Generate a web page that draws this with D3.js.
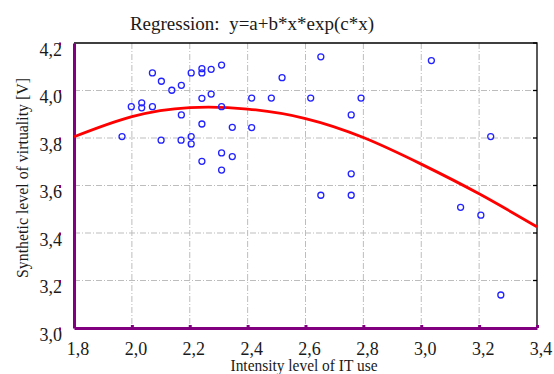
<!DOCTYPE html>
<html>
<head>
<meta charset="utf-8">
<script src="https://cdn.jsdelivr.net/npm/d3@7"></script>
<style>
    body { margin: 0; background: #fff; }
    svg { display: block; }
</style>
</head>
<body>
<script>
// observed points (intensity of IT use, synthetic level of virtuality)
var pointsX = [2.071, 2.102, 2.138, 2.171, 2.205, 2.242, 2.242, 2.274, 2.310, 2.519, 2.653, 3.035,
    1.998, 2.034, 2.034, 2.071, 2.171, 2.242, 2.274, 2.310, 2.414, 2.482, 2.618, 2.792, 2.758,
    1.966, 2.101, 2.170, 2.205, 2.205, 2.242, 2.347, 2.414, 2.310, 2.347, 2.242, 2.310,
    3.240, 2.758, 2.653, 2.758, 3.136, 3.206, 3.275];
var pointsY = [4.074, 4.039, 4.001, 4.022, 4.074, 4.092, 4.074, 4.089, 4.107, 4.054, 4.142, 4.126,
    3.932, 3.948, 3.927, 3.932, 3.897, 3.967, 3.985, 3.932, 3.968, 3.968, 3.968, 3.968, 3.897,
    3.806, 3.791, 3.791, 3.806, 3.775, 3.859, 3.845, 3.844, 3.737, 3.722, 3.702, 3.665,
    3.806, 3.649, 3.559, 3.559, 3.508, 3.475, 3.139];

// fitted regression curve
var curveX = [1.8, 2.0, 2.2, 2.4, 2.6, 2.8, 3.0, 3.2, 3.4];
var curveY = [3.805, 3.89, 3.928, 3.922, 3.882, 3.802, 3.69, 3.565, 3.426];

var xTicks = [1.8, 2.0, 2.2, 2.4, 2.6, 2.8, 3.0, 3.2, 3.4];
var yTicks = [3.0, 3.2, 3.4, 3.6, 3.8, 4.0, 4.2];

var title = "Regression:  y=a+b*x*exp(c*x)";
var xTitle = "Intensity level of IT use";
var yTitle = "Synthetic level of virtuality [V]";

var width = 554, height = 374;
var margin = {top: 43, right: 17, bottom: 46, left: 74};
var font = "'Liberation Serif', 'Times New Roman', serif";
var purple = "#800080";
var ink = "#1a1a1a";

var svg = d3.select("body").append("svg")
    .attr("width", width)
    .attr("height", height)
    .style("font-family", font);

var x = d3.scaleLinear().domain([1.8, 3.4]).range([margin.left, width - margin.right]);
var y = d3.scaleLinear().domain([3.0, 4.2]).range([height - margin.bottom, margin.top]);

function fmt(v) {
    return d3.format(".1f")(v).replace(".", ",");
}

// grid
svg.append("g").selectAll("line").data(xTicks.slice(1, -1)).enter().append("line")
    .attr("x1", function (d) { return x(d); })
    .attr("x2", function (d) { return x(d); })
    .attr("y1", y(4.2))
    .attr("y2", y(3.0))
    .attr("stroke", "#bdbdbd")
    .attr("stroke-dasharray", "6,2,1,2");

svg.append("g").selectAll("line").data(yTicks.slice(1, -1)).enter().append("line")
    .attr("x1", x(1.8))
    .attr("x2", x(3.4))
    .attr("y1", function (d) { return y(d); })
    .attr("y2", function (d) { return y(d); })
    .attr("stroke", "#bdbdbd")
    .attr("stroke-dasharray", "6,2,1,2");

// top and right frame
svg.append("path")
    .attr("d", "M" + x(1.8) + "," + y(4.2) + "H" + x(3.4) + "V" + y(3.0))
    .attr("fill", "none")
    .attr("stroke", "#000")
    .attr("stroke-width", 1.3);

// right side inward ticks
svg.append("g").selectAll("line").data(yTicks).enter().append("line")
    .attr("x1", x(3.4) - 4)
    .attr("x2", x(3.4))
    .attr("y1", function (d) { return y(d); })
    .attr("y2", function (d) { return y(d); })
    .attr("stroke", "#000")
    .attr("stroke-width", 1.3);

// axes, drawn with d3 axes then restyled
var xAxis = svg.append("g")
    .attr("transform", "translate(0," + y(3.0) + ")")
    .call(d3.axisBottom(x).tickValues(xTicks).tickFormat(fmt).tickSizeInner(-3).tickSizeOuter(0).tickPadding(14))
    .attr("font-family", font)
    .attr("font-size", 18);
xAxis.select(".domain").attr("stroke", purple).attr("stroke-width", 3);
xAxis.selectAll(".tick line").attr("stroke", purple).attr("stroke-width", 3);
xAxis.selectAll("text")
    .attr("x", 3.5)
    .style("font-family", font)
    .attr("fill", ink);

var yAxis = svg.append("g")
    .attr("transform", "translate(" + x(1.8) + ",0)")
    .call(d3.axisLeft(y).tickValues(yTicks).tickFormat(fmt).tickSize(0).tickPadding(12))
    .attr("font-family", font)
    .attr("font-size", 18);
yAxis.select(".domain").attr("stroke", purple).attr("stroke-width", 3);
yAxis.selectAll("text")
    .style("font-family", font)
    .attr("fill", ink)
    .attr("dy", "0.68em");
// little purple marks next to the labels
yAxis.selectAll(".tick").append("rect")
    .attr("x", -15)
    .attr("y", -1)
    .attr("width", 2)
    .attr("height", 3)
    .attr("fill", purple);

// regression curve
var line = d3.line()
    .x(function (d) { return x(d[0]); })
    .y(function (d) { return y(d[1]); })
    .curve(d3.curveNatural);

svg.append("path")
    .datum(curveX.map(function (d, i) { return [d, curveY[i]]; }))
    .attr("d", line)
    .attr("fill", "none")
    .attr("stroke", "#ff0000")
    .attr("stroke-width", 2.8);

// points
svg.append("g").selectAll("circle").data(d3.range(pointsX.length)).enter().append("circle")
    .attr("cx", function (i) { return x(pointsX[i]); })
    .attr("cy", function (i) { return y(pointsY[i]); })
    .attr("r", 3)
    .attr("fill", "none")
    .attr("stroke", "#2222ff")
    .attr("stroke-width", 1.3);

// titles
svg.append("text")
    .attr("x", 252)
    .attr("y", 30)
    .attr("text-anchor", "middle")
    .attr("font-size", 19)
    .attr("fill", ink)
    .attr("xml:space", "preserve")
    .style("white-space", "pre")
    .text(title);

svg.append("text")
    .attr("x", 304)
    .attr("y", 371)
    .attr("text-anchor", "middle")
    .attr("font-size", 16)
    .attr("fill", ink)
    .attr("textLength", 147)
    .attr("lengthAdjust", "spacingAndGlyphs")
    .text(xTitle);

svg.append("text")
    .attr("transform", "translate(28,178) rotate(-90)")
    .attr("text-anchor", "middle")
    .attr("font-size", 16)
    .attr("fill", ink)
    .attr("textLength", 200)
    .attr("lengthAdjust", "spacingAndGlyphs")
    .text(yTitle);
</script>
</body>
</html>
